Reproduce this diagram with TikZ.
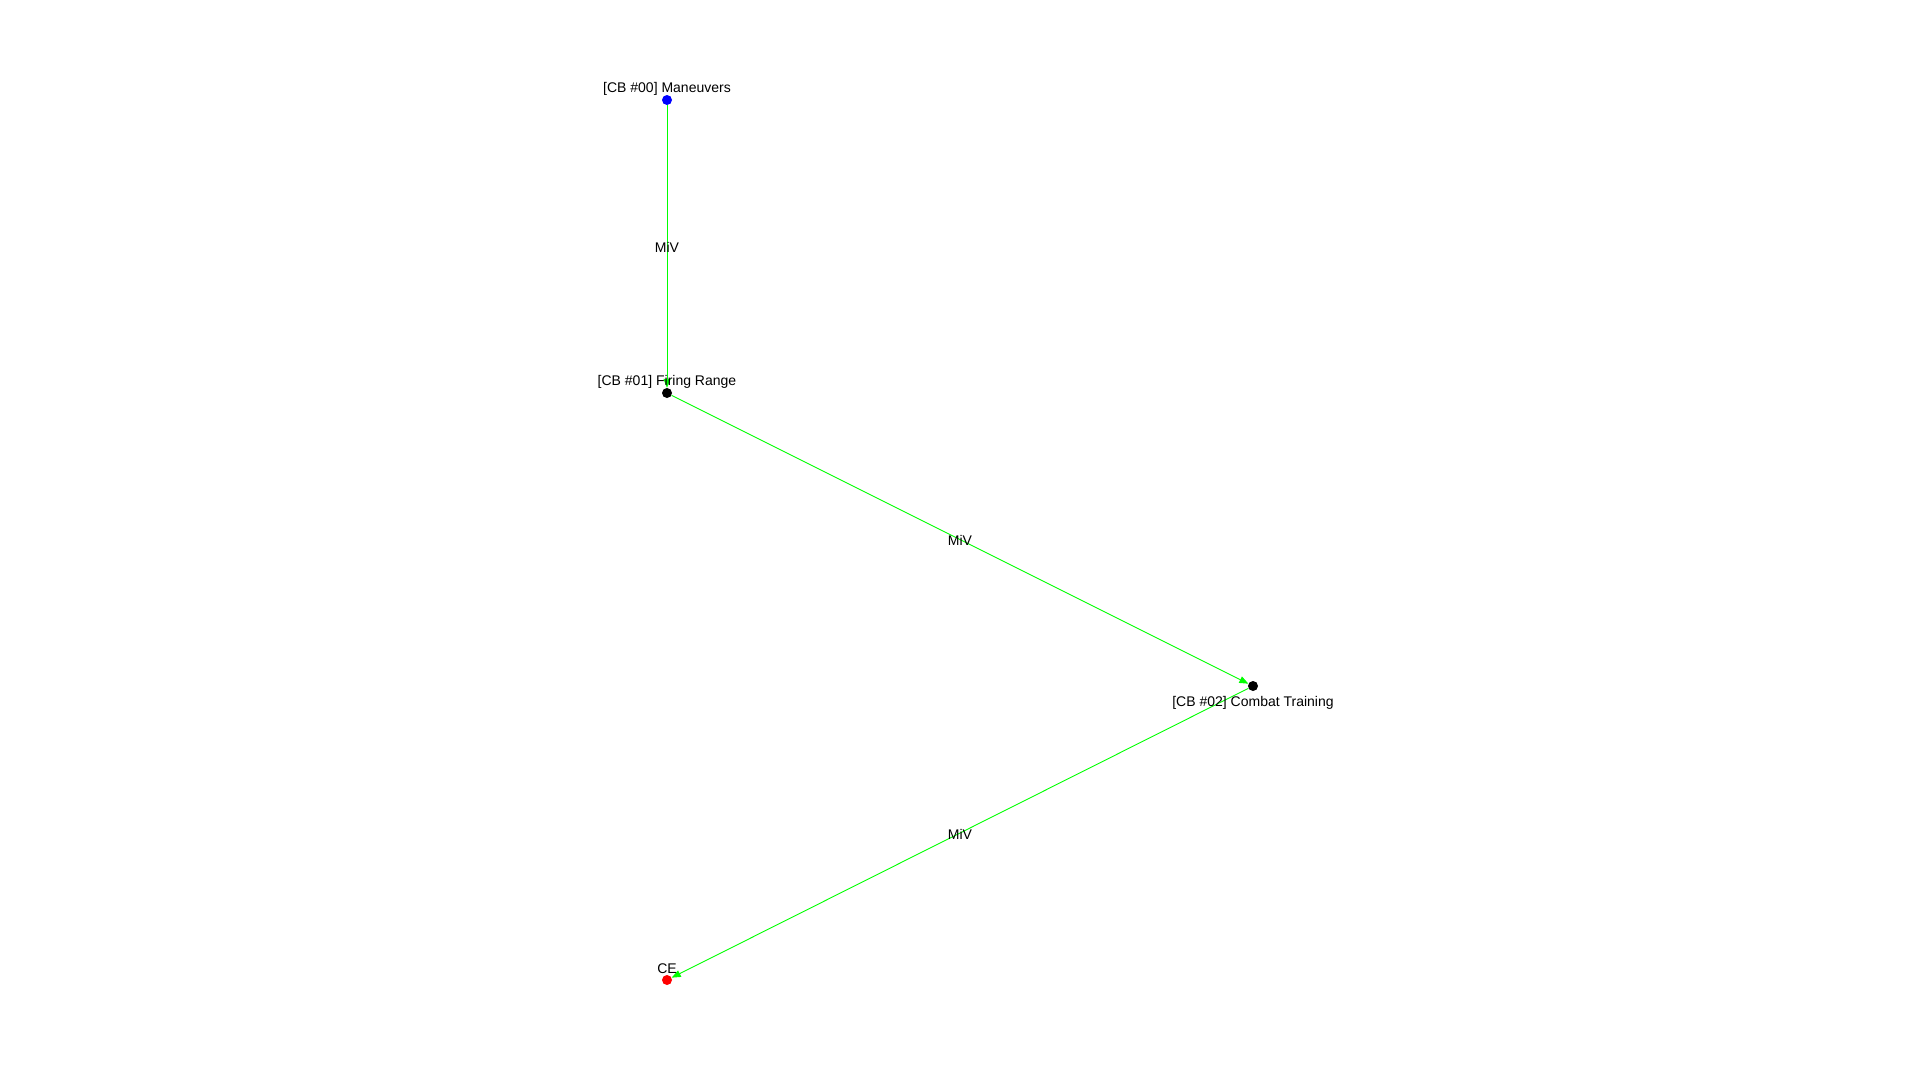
\documentclass[tikz,border=0pt]{standalone}
\usepackage{fontspec}
\setmainfont{Liberation Sans}
\usetikzlibrary{arrows.meta}
\begin{document}
\begin{tikzpicture}[x=1pt,y=-1pt,line join=round,
	dot/.style={circle,inner sep=0pt,minimum size=10pt},
	lbl/.style={font=\fontsize{14}{16}\selectfont,inner sep=0pt},
	miv/.style={draw=green,line width=0.9pt,-{Triangle[length=9pt,width=7pt]}}]
	\useasboundingbox (0,0) rectangle (1920,1080);
	\node[dot,fill=blue](M) at (667,100){};
	\node[dot,fill=black](F) at (667,393){};
	\node[dot,fill=black](C) at (1253,686){};
	\node[dot,fill=red](E) at (667,980){};
	\draw[miv] (M)--node[lbl,yshift=-1pt]{MiV}(F);
	\draw[miv] (F)--node[lbl,yshift=-1pt]{MiV}(C);
	\draw[miv] (C)--node[lbl,yshift=-1pt]{MiV}(E);
	\foreach \p/\t/\g in {M/{[CB \#00] Maneuvers}/-11,F/{[CB \#01] Firing Range}/-11,C/{[CB \#02] Combat Training}/17,E/CE/-11}\node[lbl] at ([shift={(0,\g)}]\p) {\t};
\end{tikzpicture}
\end{document}
